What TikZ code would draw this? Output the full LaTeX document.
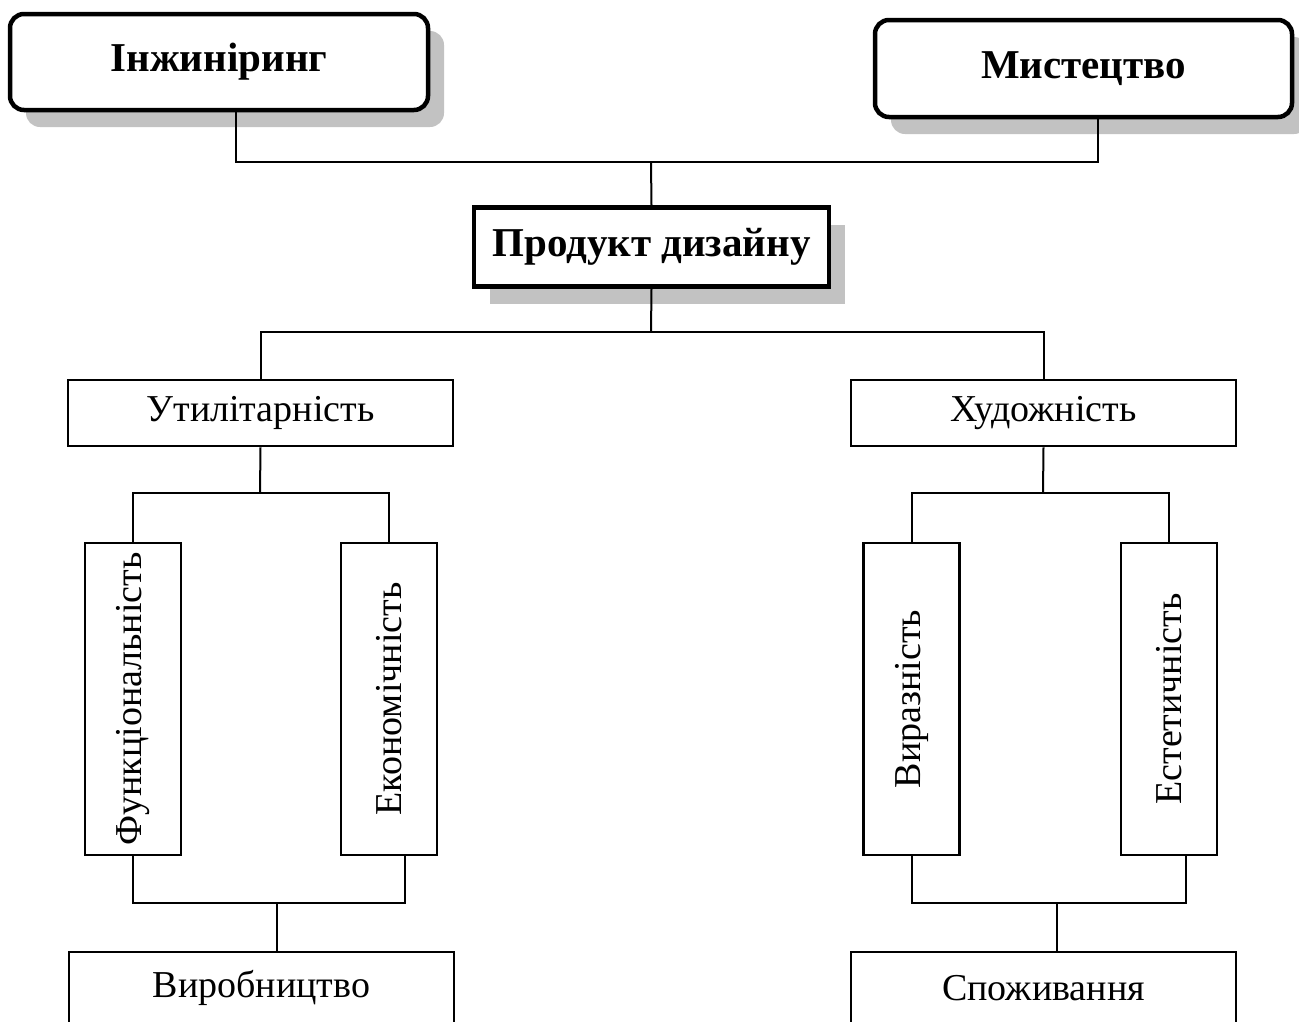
\documentclass[tikz,border=0pt]{standalone}
\usepackage{fontspec}
\setmainfont{Liberation Serif}
\usepackage{graphicx}
\usetikzlibrary{shadows,calc}
\definecolor{ShadowClr}{gray}{0.76}

\begin{document}
\begin{tikzpicture}[x=1pt,y=-1pt,
  box/.style={draw,line width=2.5pt,inner sep=0pt,minimum width=385pt,minimum height=66pt,
    font=\fontsize{38}{44}\selectfont},
  vbox/.style={box,minimum width=96pt,minimum height=312pt},
  headbox/.style={draw,line width=4.5pt,fill=white,inner sep=0pt,
    font=\fontsize{41}{48}\selectfont\bfseries,
    drop shadow={fill=ShadowClr,opacity=1,shadow xshift=16pt,shadow yshift=-17pt}},
  link/.style={line width=2pt}]
\clip (0,0) rectangle (1299,1021);

\node[headbox,rounded corners=14pt,minimum width=418pt,minimum height=96pt] (eng) at (219,62) {Інжиніринг};
\node[headbox,rounded corners=14pt,minimum width=417pt,minimum height=97pt] (art) at (1083.5,68.5) {Мистецтво};
\node[headbox,minimum width=355pt,minimum height=79pt] (prod) at (651.5,247) {Продукт дизайну};

\node[box] (util) at (260.5,413) {Утилітарність};
\node[box] (artis) at (1043.5,413) {Художність};

\node[vbox] (func) at (133,699) {\rotatebox{90}{Функціональність}};
\node[vbox] (econ) at (389,699) {\rotatebox{90}{Економічність}};
\node[vbox] (expr) at (911.5,699) {\rotatebox{90}{Виразність}};
\node[vbox] (aest) at (1169,699) {\rotatebox{90}{Естетичність}};

\node[box,minimum height=72pt] (manuf) at (261.5,988) {Виробництво};
\node[box,minimum height=72pt] (cons) at (1043.5,988) {Споживання};

\coordinate (top) at (651,162);
\coordinate (mid) at (651,332);
\coordinate (ul) at (260,493);
\coordinate (ur) at (1043,493);
\coordinate (bl) at (277,903);
\coordinate (br) at (1057,903);

\draw[link] ([xshift=17pt]eng.south) |- (top) -| ([xshift=14.5pt]art.south);
\draw[link] (top) -- (prod.north);
\draw[link] (prod.south) -- (mid);
\draw[link] (util.north) |- (mid) -| (artis.north);
\draw[link] (util.south) -- (ul);
\draw[link] (func.north) |- (ul) -| (econ.north);
\draw[link] (artis.south) -- (ur);
\draw[link] (expr.north) |- (ur) -| (aest.north);
\draw[link] (func.south) |- (bl) -| ([xshift=16pt]econ.south);
\draw[link] (bl) -- (bl |- manuf.north);
\draw[link] (expr.south) |- (br) -| ([xshift=17pt]aest.south);
\draw[link] (br) -- (br |- cons.north);

\end{tikzpicture}
\end{document}
